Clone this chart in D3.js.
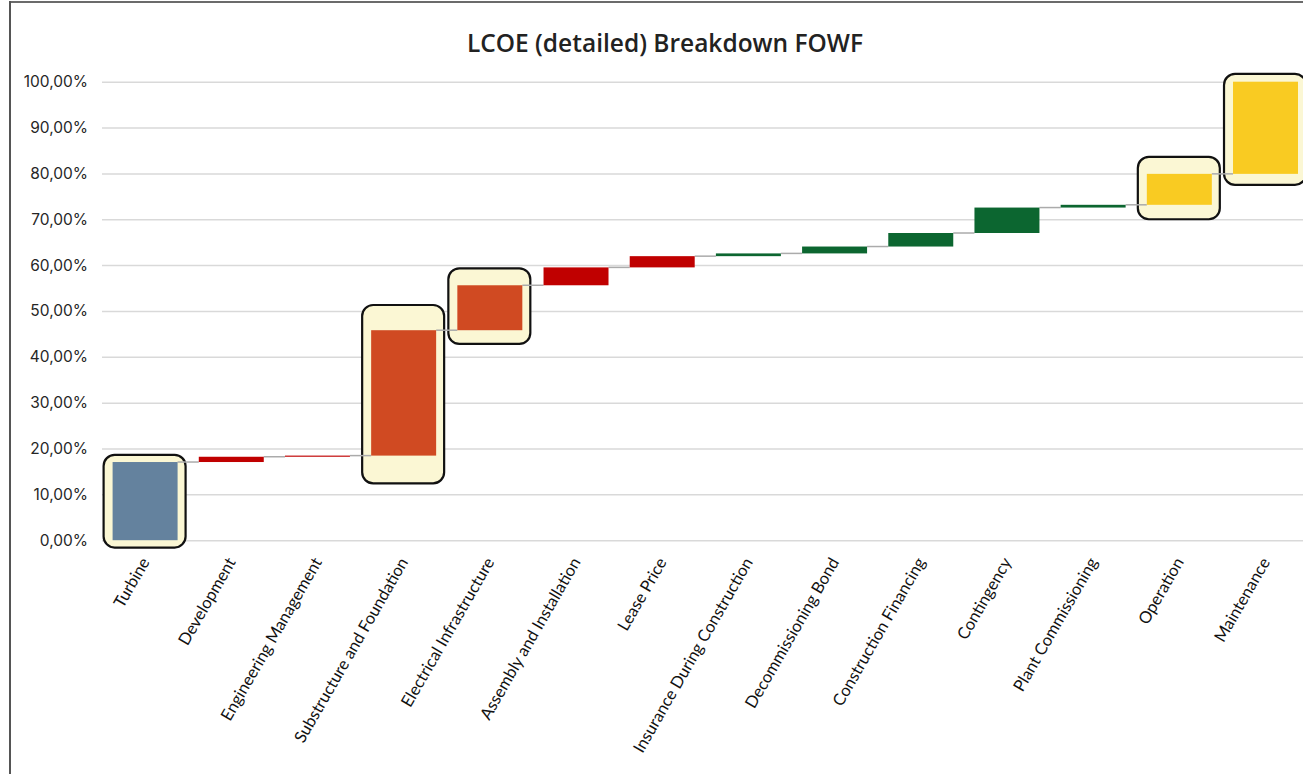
<!DOCTYPE html>
<html>
<head>
<meta charset="utf-8">
<script src="https://cdn.jsdelivr.net/npm/d3@7"></script>
<style>
  html, body { margin: 0; padding: 0; background: #fff; }
  svg { display: block; }
</style>
</head>
<body>
<svg id="chart" width="1303" height="774"></svg>
<script>
// LCOE cost components, share of total (%)
const categories = [
  "Turbine", "Development", "Engineering Management", "Substructure and Foundation",
  "Electrical Infrastructure", "Assembly and Installation", "Lease Price",
  "Insurance During Construction", "Decommissioning Bond", "Construction Financing",
  "Contingency", "Plant Commissioning", "Operation", "Maintenance"
];
const shares = [17.05, 1.15, 0.25, 27.35, 9.8, 3.9, 2.45, 0.6, 1.5, 2.95, 5.55, 0.6, 6.75, 20.1];
const groups = [
  "turbine", "development", "development", "balance", "balance", "development", "development",
  "financial", "financial", "financial", "financial", "financial", "opex", "opex"
];
const yTicks = [0, 10, 20, 30, 40, 50, 60, 70, 80, 90, 100];

// Highlighted components with the value range each callout covers
const highlightNames = ["Turbine", "Substructure and Foundation", "Electrical Infrastructure", "Operation", "Maintenance"];
const highlightFrom  = [-1.6, 12.4, 42.8, 70.0, 77.5];
const highlightTo    = [18.6, 51.3, 59.3, 83.6, 101.7];

const title = "LCOE (detailed) Breakdown FOWF";

// running totals for the waterfall
let acc = 0;
const steps = categories.map((c, i) => {
  const start = acc;
  acc += shares[i];
  return { name: c, start, end: acc, group: groups[i] };
});

const svg = d3.select("#chart");
const W = 1303, H = 774;

const x = d3.scaleBand().domain(categories).range([102, 1308.6]).paddingInner(0.246).paddingOuter(0.123);
const y = d3.scaleLinear().domain([0, 100]).range([540.2, 81.7]);

const color = d3.scaleOrdinal()
  .domain(["turbine", "development", "balance", "financial", "opex"])
  .range(["#64829E", "#C00000", "#D04A22", "#0C6630", "#F9CB22"]);

// chart frame
svg.append("line").attr("x1", 10).attr("x2", W).attr("y1", 2).attr("y2", 2)
  .attr("stroke", "#6b6b6b").attr("stroke-width", 2);
svg.append("line").attr("x1", 10).attr("x2", 10).attr("y1", 1).attr("y2", H)
  .attr("stroke", "#555").attr("stroke-width", 2);

// title
svg.append("text").attr("x", 665).attr("y", 52)
  .attr("text-anchor", "middle")
  .attr("font-family", "'Open Sans', sans-serif").attr("font-weight", 600)
  .attr("font-size", 24.5).attr("fill", "#222")
  .text(title);

// y axis with gridlines
const yAxis = d3.axisLeft(y).tickValues(yTicks)
  .tickFormat(d => d3.format(".2f")(d).replace(".", ",") + "%")
  .tickSize(-(W - 102)).tickPadding(14);
const gy = svg.append("g").attr("transform", "translate(102,0)").call(yAxis);
gy.select(".domain").remove();
gy.selectAll(".tick line").attr("stroke", "#d9d9d9").attr("stroke-width", 1.5);
gy.selectAll(".tick text").attr("font-family", "Inter, sans-serif").attr("font-size", 15.5)
  .attr("fill", "#262626");

// callout boxes behind highlighted bars
const hl = highlightNames.map((n, i) => ({ name: n, from: highlightFrom[i], to: highlightTo[i] }));
svg.append("g").selectAll("rect").data(hl).join("rect")
  .attr("x", d => x(d.name) - 9)
  .attr("width", x.bandwidth() + 17)
  .attr("y", d => y(d.to))
  .attr("height", d => y(d.from) - y(d.to))
  .attr("rx", 11).attr("ry", 11)
  .attr("fill", "#FBF7D4").attr("stroke", "#111").attr("stroke-width", 2.2);

// connectors between consecutive bars
svg.append("g").selectAll("line").data(steps.slice(0, -1)).join("line")
  .attr("x1", d => x(d.name) + x.bandwidth())
  .attr("x2", (d, i) => x(steps[i + 1].name))
  .attr("y1", d => y(d.end)).attr("y2", d => y(d.end))
  .attr("stroke", "#ababab").attr("stroke-width", 1.5);

// waterfall bars
svg.append("g").selectAll("rect").data(steps).join("rect")
  .attr("x", d => x(d.name))
  .attr("width", x.bandwidth())
  .attr("y", d => y(d.end))
  .attr("height", d => Math.max(1, y(d.start) - y(d.end)))
  .attr("fill", d => color(d.group));

// rotated category labels
svg.append("g").selectAll("text").data(categories).join("text")
  .attr("transform", d => `translate(${x(d) + x.bandwidth() / 2},${559}) rotate(-60)`)
  .attr("text-anchor", "end").attr("dy", "0.35em")
  .attr("font-family", "Lato, sans-serif").attr("font-size", 16.5)
  .attr("fill", "#111")
  .text(d => d);
</script>
</body>
</html>
